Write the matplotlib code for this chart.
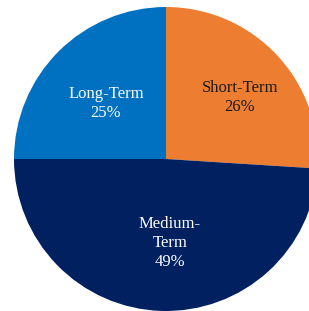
import numpy as np
import matplotlib.pyplot as plt

# Term breakdown (percent)
labels = ["Short-Term", "Medium-\nTerm", "Long-Term"]
shares = [26, 49, 25]
colors = ["#ED7D31", "#002060", "#0070C0"]
text_colors = ["#1a1a1a", "white", "white"]

# label placement: fraction of radius and angle nudge (deg) from slice middle
label_dist = [0.63, 0.55, 0.54]
label_turn = [-3.5, 4.5, 2]

fig = plt.figure(figsize=(3.09, 3.11), dpi=100)
ax = fig.add_axes([0, 0, 1, 1])

cx, cy, r = 166, 152, 152
wedges, _ = ax.pie(shares, colors=colors, startangle=90, counterclock=False,
                   radius=r, center=(cx, cy), wedgeprops=dict(linewidth=0))

for w, lab, val, tc, d, t in zip(wedges, labels, shares, text_colors, label_dist, label_turn):
    ang = np.radians((w.theta1 + w.theta2) / 2 + t)
    ax.text(cx + d * r * np.cos(ang), cy + d * r * np.sin(ang), f"{lab}\n{val}%",
            ha="center", va="center", color=tc, fontsize=12,
            family="Liberation Serif", linespacing=1.25)

ax.set_xlim(0, 309)
ax.set_ylim(0, 311)
ax.set_aspect("equal")
ax.axis("off")

fig.savefig("out.png", dpi=100)
